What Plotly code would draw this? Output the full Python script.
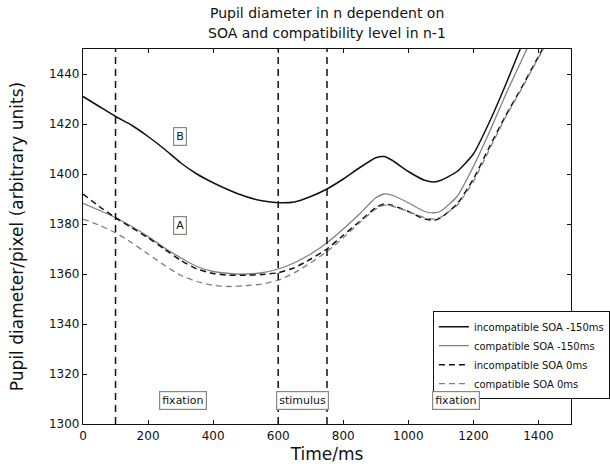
import plotly.graph_objects as go

time_ms = [0, 50, 100, 150, 200, 250, 300, 350, 400, 450, 500, 550, 600, 650, 700,
           750, 800, 850, 900, 925, 950, 1000, 1050, 1080, 1100, 1150, 1200, 1250,
           1300, 1350, 1400, 1450]

incompatible_m150 = [1431, 1427, 1423, 1419.5, 1415, 1410, 1404.5, 1400, 1396.5, 1393.5,
                     1391, 1389.3, 1388.5, 1388.8, 1391, 1394, 1398, 1402.5, 1406.5, 1407,
                     1405.5, 1401, 1397.5, 1396.8, 1397.5, 1401, 1408, 1421, 1436, 1452,
                     1468, 1484]
compatible_m150 = [1388.3, 1385.5, 1382.5, 1379, 1375, 1370.5, 1366.5, 1363, 1361, 1360.2,
                   1360, 1360.5, 1362, 1364.5, 1368, 1372.5, 1378, 1384, 1390.5, 1392,
                   1391.5, 1388.5, 1385, 1384.5, 1385.2, 1391, 1403, 1417, 1432, 1446,
                   1460, 1474]
incompatible_0 = [1392, 1387, 1382.5, 1378.5, 1374.5, 1370, 1365.5, 1362, 1360.2, 1359.5,
                  1359.5, 1359.8, 1360.5, 1362.5, 1366, 1370, 1375.5, 1381, 1386.5, 1388,
                  1387.5, 1385, 1382, 1381.5, 1382.5, 1388, 1398, 1411, 1423.5, 1435,
                  1447, 1459]
compatible_0 = [1382, 1379.5, 1376.5, 1372.5, 1368, 1363.5, 1359.5, 1357, 1355.5, 1355,
                1355.3, 1356, 1357.5, 1360.5, 1364.5, 1369, 1374.5, 1380.5, 1386, 1387.5,
                1387.2, 1385, 1382.5, 1382, 1382.8, 1387.5, 1397, 1410, 1423, 1434.5,
                1446.5, 1458.5]

series_names = ["incompatible SOA -150ms", "compatible SOA -150ms",
                "incompatible SOA 0ms", "compatible SOA 0ms"]
phase_lines_ms = [100, 600, 750]
phase_labels = ["fixation", "stimulus", "fixation"]
phase_label_x = [307, 675, 1145]
phase_label_y = [1309.5, 1309.5, 1309.5]
curve_labels = ["B", "A"]
curve_label_x = [298, 298]
curve_label_y = [1415, 1379.5]

x_ticks = [0, 200, 400, 600, 800, 1000, 1200, 1400]
y_ticks = [1300, 1320, 1340, 1360, 1380, 1400, 1420, 1440]

title_lines = ["Pupil diameter in n dependent on", "SOA and compatibility level in n-1"]

FONT = "DejaVu Sans, Liberation Sans, sans-serif"

fig = go.Figure()
styles = [
    dict(color="#111111", width=1.5, dash="solid"),
    dict(color="#808080", width=1.3, dash="solid"),
    dict(color="#111111", width=1.5, dash="6px,4px"),
    dict(color="#808080", width=1.3, dash="6px,4px"),
]
for name, ys, st in zip(series_names,
                        [incompatible_m150, compatible_m150, incompatible_0, compatible_0],
                        styles):
    fig.add_trace(go.Scatter(x=time_ms, y=ys, mode="lines", name=name,
                             line=dict(color=st["color"], width=st["width"],
                                       dash=st["dash"], shape="spline", smoothing=0.5)))

for xv in phase_lines_ms:
    fig.add_shape(type="line", xref="x", yref="paper", x0=xv, x1=xv, y0=0, y1=1,
                  line=dict(color="#111111", width=1.5, dash="7px,5px"))

for txt, xv, yv in zip(phase_labels + curve_labels,
                       phase_label_x + curve_label_x,
                       phase_label_y + curve_label_y):
    fig.add_annotation(x=xv, y=yv, xref="x", yref="y", text=txt, showarrow=False,
                       font=dict(family=FONT, size=11, color="#111111"),
                       bgcolor="white", bordercolor="#888888", borderwidth=1.2,
                       borderpad=2)

# two-line title, centred over the plot area
for line_text, yp in zip(title_lines, [1.096, 1.043]):
    fig.add_annotation(x=0.5, y=yp, xref="paper", yref="paper", text=line_text,
                       showarrow=False, xanchor="center", yanchor="middle",
                       font=dict(family=FONT, size=14, color="#111111"))

axis_common = dict(showline=True, linecolor="#111111", linewidth=1.3, mirror="ticks",
                   ticks="inside", ticklen=4, tickcolor="#111111", showgrid=False,
                   zeroline=False, automargin=False,
                   tickfont=dict(family=FONT, size=12, color="#111111"))

fig.update_layout(
    width=610, height=468,
    margin=dict(l=83, r=39, t=49, b=44, autoexpand=False),
    paper_bgcolor="white", plot_bgcolor="white",
    xaxis=dict(range=[0, 1500], tickvals=x_ticks,
               title=dict(text="Time/ms", font=dict(family=FONT, size=17, color="#111111"),
                          standoff=6),
               **axis_common),
    yaxis=dict(range=[1300, 1450], tickvals=y_ticks,
               title=dict(text="Pupil diameter/pixel (arbitrary units)",
                          font=dict(family=FONT, size=17, color="#111111"), standoff=20),
               **axis_common),
    legend=dict(x=0.717, y=0.301, xanchor="left", yanchor="top", bgcolor="white",
                bordercolor="#111111", borderwidth=1,
                font=dict(family=FONT, size=10, color="#111111"),
                itemwidth=30, tracegroupgap=0),
    showlegend=True,
)

fig.write_html("out.html", config={"displayModeBar": False},
               post_script="document.body.style.margin='0';document.body.style.overflow='hidden';")
